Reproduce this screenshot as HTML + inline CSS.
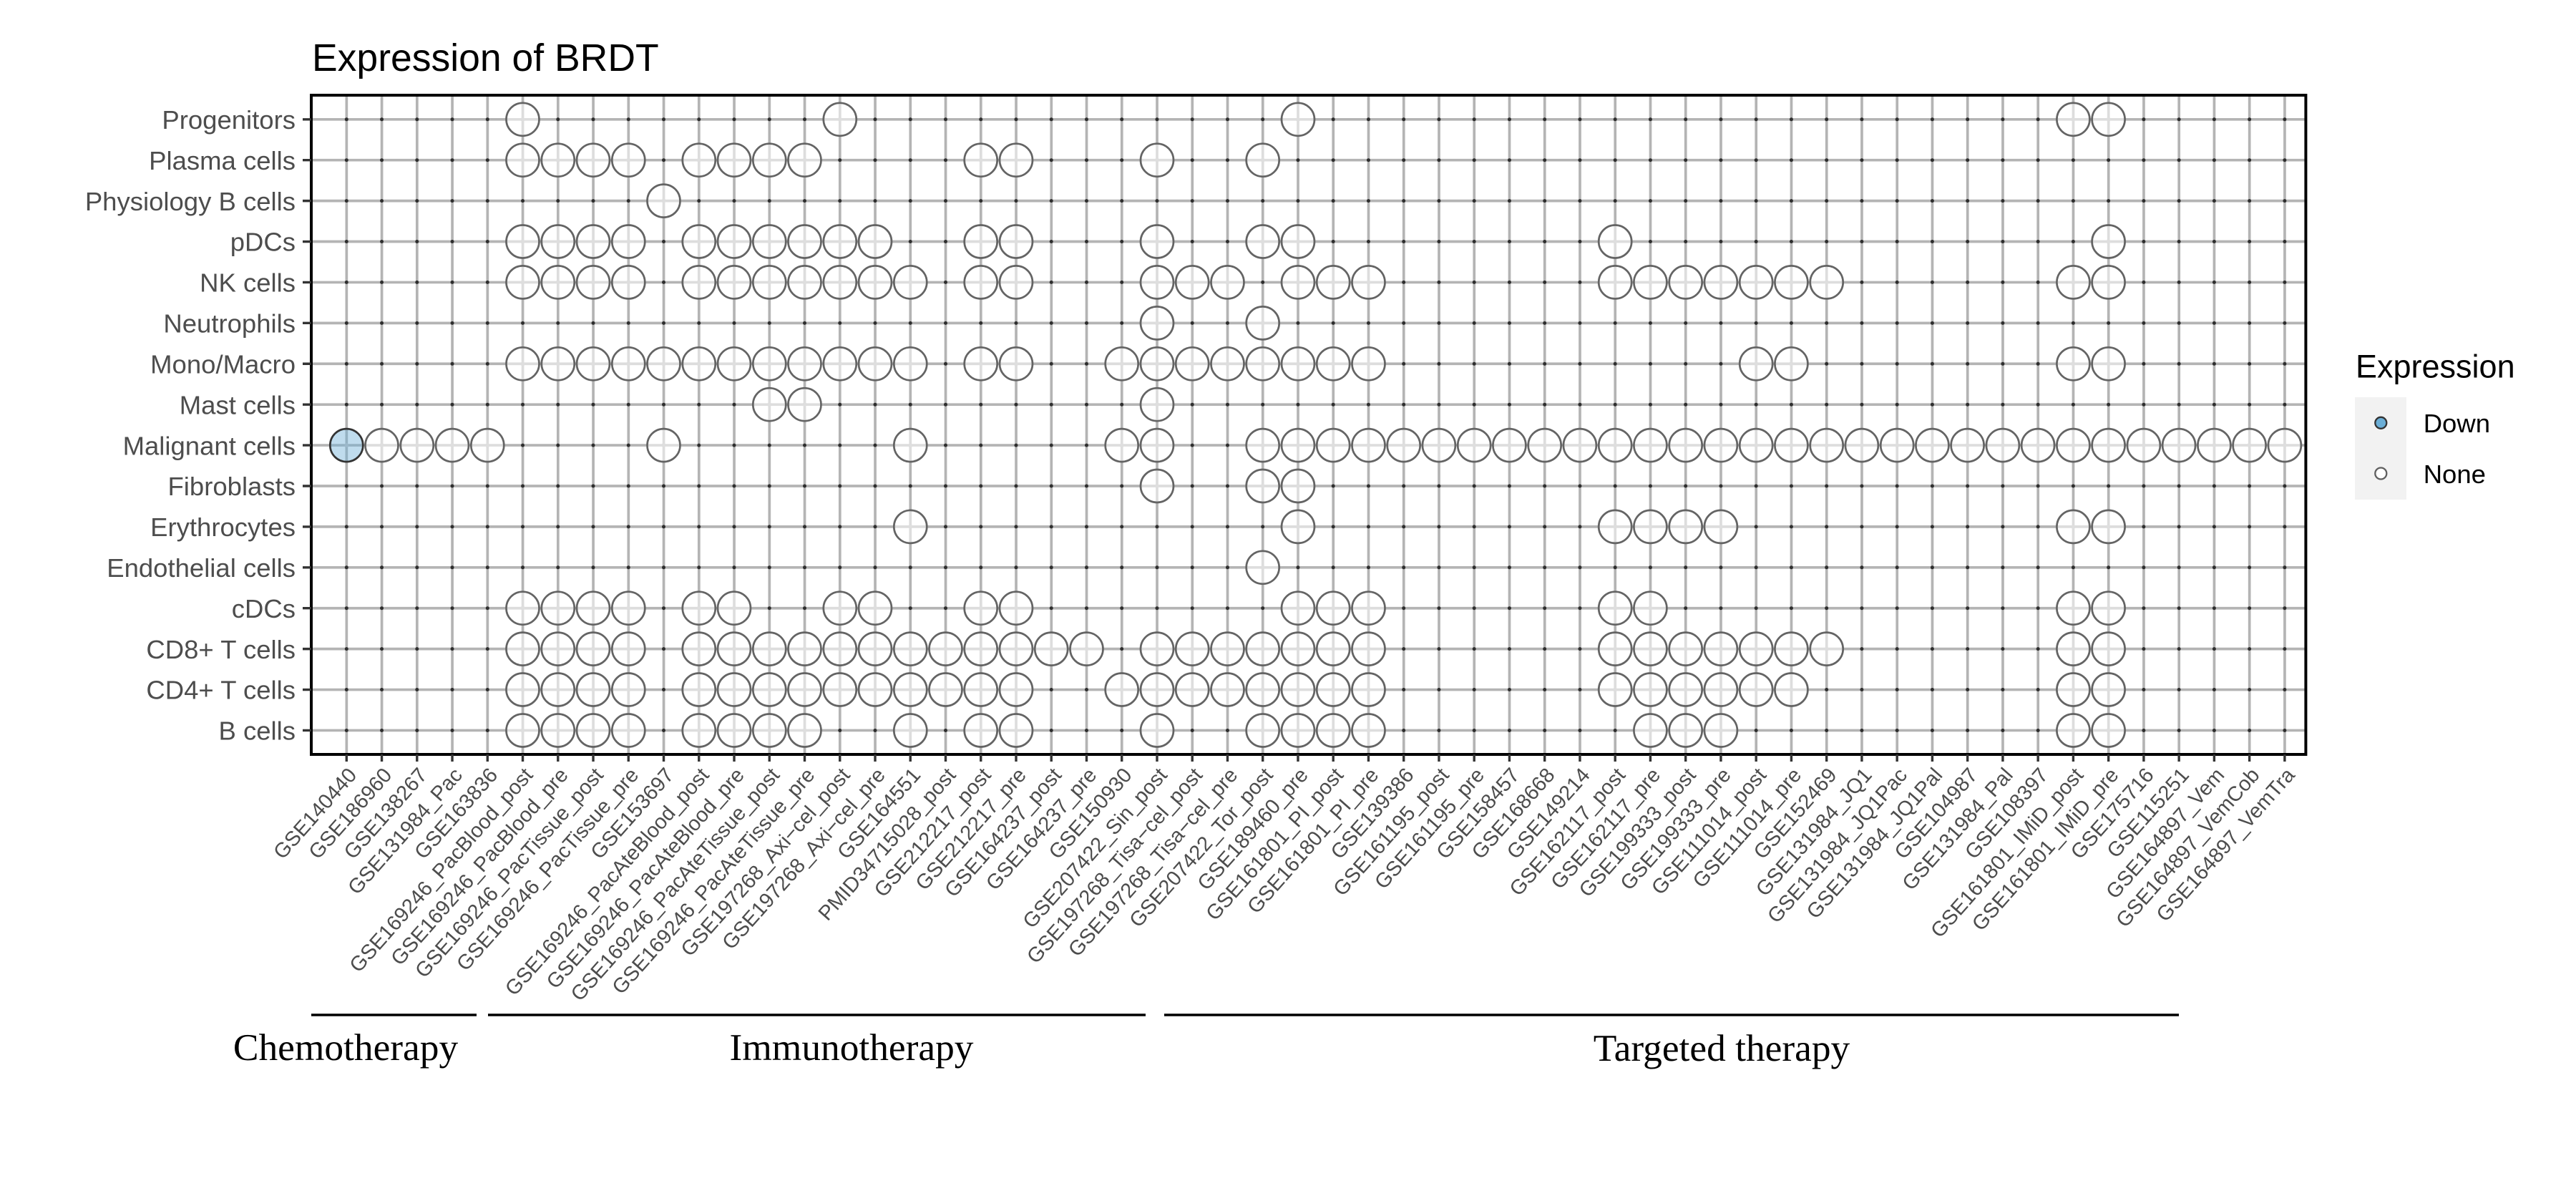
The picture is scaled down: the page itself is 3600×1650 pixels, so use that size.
<!DOCTYPE html>
<html>
<head>
<meta charset="utf-8">
<style>
html,body{margin:0;padding:0;background:#fff;}
svg{display:block;}
.sans{font-family:"Liberation Sans",Arial,Helvetica,sans-serif;}
.serif{font-family:"Liberation Serif","Times New Roman",serif;}
.xl{font-size:29px;fill:#4d4d4d;text-anchor:end;}
.yl{font-size:36.5px;fill:#4d4d4d;text-anchor:end;}
.c circle{fill:url(#g);stroke:#646464;stroke-width:2.7;}
</style>
</head>
<body>
<svg width="3600" height="1650" viewBox="0 0 3600 1650" xmlns="http://www.w3.org/2000/svg">
<defs>
<radialGradient id="g" cx="0.5" cy="0.5" r="0.5">
<stop offset="0" stop-color="#dedede" stop-opacity="1"/>
<stop offset="0.13" stop-color="#dedede" stop-opacity="1"/>
<stop offset="0.131" stop-color="#ffffff" stop-opacity="0.55"/>
<stop offset="1" stop-color="#ffffff" stop-opacity="0.55"/>
</radialGradient>
<radialGradient id="gb" cx="0.5" cy="0.5" r="0.5">
<stop offset="0" stop-color="#9bb8ca" stop-opacity="1"/>
<stop offset="0.13" stop-color="#9bb8ca" stop-opacity="1"/>
<stop offset="0.131" stop-color="#6baed6" stop-opacity="0.43"/>
<stop offset="1" stop-color="#6baed6" stop-opacity="0.43"/>
</radialGradient>
</defs>
<rect x="0" y="0" width="3600" height="1650" fill="#fff"/>

<!-- title -->
<text class="sans" x="436" y="99" font-size="53.5" fill="#000">Expression of BRDT</text>

<!-- gridlines -->
<line x1="482.5" y1="593.5" x2="3195" y2="593.5" stroke="#b4b4b4" stroke-width="921" stroke-dasharray="3.7 45.547"/>
<line x1="1828.7" y1="164.95" x2="1828.7" y2="1022.5" stroke="#b4b4b4" stroke-width="2787.4" stroke-dasharray="3.7 53.21"/>

<!-- small dots at every intersection -->
<g stroke="#2e2e2e" stroke-width="5" stroke-linecap="round" stroke-dasharray="0 49.247" fill="none">
<path d="M484.3 166.8H3193.6M484.3 223.7H3193.6M484.3 280.6H3193.6M484.3 337.5H3193.6M484.3 394.4H3193.6M484.3 451.4H3193.6M484.3 508.3H3193.6M484.3 565.2H3193.6M484.3 622.1H3193.6M484.3 679.0H3193.6M484.3 735.9H3193.6M484.3 792.8H3193.6M484.3 849.7H3193.6M484.3 906.6H3193.6M484.3 963.5H3193.6M484.3 1020.5H3193.6"/>
</g>

<!-- circles -->
<g class="c">
<g transform="translate(0,166.8)">
<circle cx="730.5" r="23"/><circle cx="1173.8" r="23"/><circle cx="1814.0" r="23"/><circle cx="2897.4" r="23"/><circle cx="2946.6" r="23"/>
</g>
<g transform="translate(0,223.7)">
<circle cx="730.5" r="23"/><circle cx="779.8" r="23"/><circle cx="829.0" r="23"/><circle cx="878.3" r="23"/>
<circle cx="976.8" r="23"/><circle cx="1026.0" r="23"/><circle cx="1075.3" r="23"/><circle cx="1124.5" r="23"/>
<circle cx="1370.7" r="23"/><circle cx="1420.0" r="23"/><circle cx="1617.0" r="23"/><circle cx="1764.7" r="23"/>
</g>
<g transform="translate(0,280.6)">
<circle cx="927.5" r="23"/>
</g>
<g transform="translate(0,337.5)">
<circle cx="730.5" r="23"/><circle cx="779.8" r="23"/><circle cx="829.0" r="23"/><circle cx="878.3" r="23"/>
<circle cx="976.8" r="23"/><circle cx="1026.0" r="23"/><circle cx="1075.3" r="23"/><circle cx="1124.5" r="23"/><circle cx="1173.8" r="23"/><circle cx="1223.0" r="23"/>
<circle cx="1370.7" r="23"/><circle cx="1420.0" r="23"/><circle cx="1617.0" r="23"/><circle cx="1764.7" r="23"/><circle cx="1814.0" r="23"/>
<circle cx="2257.2" r="23"/><circle cx="2946.6" r="23"/>
</g>
<g transform="translate(0,394.4)">
<circle cx="730.5" r="23"/><circle cx="779.8" r="23"/><circle cx="829.0" r="23"/><circle cx="878.3" r="23"/>
<circle cx="976.8" r="23"/><circle cx="1026.0" r="23"/><circle cx="1075.3" r="23"/><circle cx="1124.5" r="23"/><circle cx="1173.8" r="23"/><circle cx="1223.0" r="23"/><circle cx="1272.3" r="23"/>
<circle cx="1370.7" r="23"/><circle cx="1420.0" r="23"/>
<circle cx="1617.0" r="23"/><circle cx="1666.2" r="23"/><circle cx="1715.5" r="23"/>
<circle cx="1814.0" r="23"/><circle cx="1863.2" r="23"/><circle cx="1912.5" r="23"/>
<circle cx="2257.2" r="23"/><circle cx="2306.4" r="23"/><circle cx="2355.7" r="23"/><circle cx="2404.9" r="23"/><circle cx="2454.2" r="23"/><circle cx="2503.4" r="23"/><circle cx="2552.7" r="23"/>
<circle cx="2897.4" r="23"/><circle cx="2946.6" r="23"/>
</g>
<g transform="translate(0,451.4)">
<circle cx="1617.0" r="23"/><circle cx="1764.7" r="23"/>
</g>
<g transform="translate(0,508.3)">
<circle cx="730.5" r="23"/><circle cx="779.8" r="23"/><circle cx="829.0" r="23"/><circle cx="878.3" r="23"/><circle cx="927.5" r="23"/><circle cx="976.8" r="23"/><circle cx="1026.0" r="23"/><circle cx="1075.3" r="23"/><circle cx="1124.5" r="23"/><circle cx="1173.8" r="23"/><circle cx="1223.0" r="23"/><circle cx="1272.3" r="23"/>
<circle cx="1370.7" r="23"/><circle cx="1420.0" r="23"/>
<circle cx="1567.7" r="23"/><circle cx="1617.0" r="23"/><circle cx="1666.2" r="23"/><circle cx="1715.5" r="23"/><circle cx="1764.7" r="23"/><circle cx="1814.0" r="23"/><circle cx="1863.2" r="23"/><circle cx="1912.5" r="23"/>
<circle cx="2454.2" r="23"/><circle cx="2503.4" r="23"/>
<circle cx="2897.4" r="23"/><circle cx="2946.6" r="23"/>
</g>
<g transform="translate(0,565.2)">
<circle cx="1075.3" r="23"/><circle cx="1124.5" r="23"/><circle cx="1617.0" r="23"/>
</g>
<g transform="translate(0,622.1)">
<circle cx="484.3" r="23" style="fill:url(#gb);stroke:#333;"/>
<circle cx="533.5" r="23"/><circle cx="582.8" r="23"/><circle cx="632.0" r="23"/><circle cx="681.3" r="23"/>
<circle cx="927.5" r="23"/><circle cx="1272.3" r="23"/><circle cx="1567.7" r="23"/><circle cx="1617.0" r="23"/>
<circle cx="1764.7" r="23"/><circle cx="1814.0" r="23"/><circle cx="1863.2" r="23"/><circle cx="1912.5" r="23"/><circle cx="1961.7" r="23"/><circle cx="2010.9" r="23"/><circle cx="2060.2" r="23"/><circle cx="2109.4" r="23"/><circle cx="2158.7" r="23"/><circle cx="2207.9" r="23"/>
<circle cx="2257.2" r="23"/><circle cx="2306.4" r="23"/><circle cx="2355.7" r="23"/><circle cx="2404.9" r="23"/><circle cx="2454.2" r="23"/><circle cx="2503.4" r="23"/><circle cx="2552.7" r="23"/><circle cx="2601.9" r="23"/><circle cx="2651.2" r="23"/><circle cx="2700.4" r="23"/>
<circle cx="2749.6" r="23"/><circle cx="2798.9" r="23"/><circle cx="2848.1" r="23"/><circle cx="2897.4" r="23"/><circle cx="2946.6" r="23"/><circle cx="2995.9" r="23"/><circle cx="3045.1" r="23"/><circle cx="3094.4" r="23"/><circle cx="3143.6" r="23"/><circle cx="3192.9" r="23"/>
</g>
<g transform="translate(0,679.0)">
<circle cx="1617.0" r="23"/><circle cx="1764.7" r="23"/><circle cx="1814.0" r="23"/>
</g>
<g transform="translate(0,735.9)">
<circle cx="1272.3" r="23"/><circle cx="1814.0" r="23"/>
<circle cx="2257.2" r="23"/><circle cx="2306.4" r="23"/><circle cx="2355.7" r="23"/><circle cx="2404.9" r="23"/>
<circle cx="2897.4" r="23"/><circle cx="2946.6" r="23"/>
</g>
<g transform="translate(0,792.8)">
<circle cx="1764.7" r="23"/>
</g>
<g transform="translate(0,849.7)">
<circle cx="730.5" r="23"/><circle cx="779.8" r="23"/><circle cx="829.0" r="23"/><circle cx="878.3" r="23"/>
<circle cx="976.8" r="23"/><circle cx="1026.0" r="23"/><circle cx="1173.8" r="23"/><circle cx="1223.0" r="23"/>
<circle cx="1370.7" r="23"/><circle cx="1420.0" r="23"/>
<circle cx="1814.0" r="23"/><circle cx="1863.2" r="23"/><circle cx="1912.5" r="23"/>
<circle cx="2257.2" r="23"/><circle cx="2306.4" r="23"/>
<circle cx="2897.4" r="23"/><circle cx="2946.6" r="23"/>
</g>
<g transform="translate(0,906.6)">
<circle cx="730.5" r="23"/><circle cx="779.8" r="23"/><circle cx="829.0" r="23"/><circle cx="878.3" r="23"/>
<circle cx="976.8" r="23"/><circle cx="1026.0" r="23"/><circle cx="1075.3" r="23"/><circle cx="1124.5" r="23"/><circle cx="1173.8" r="23"/><circle cx="1223.0" r="23"/><circle cx="1272.3" r="23"/><circle cx="1321.5" r="23"/><circle cx="1370.7" r="23"/><circle cx="1420.0" r="23"/><circle cx="1469.2" r="23"/><circle cx="1518.5" r="23"/>
<circle cx="1617.0" r="23"/><circle cx="1666.2" r="23"/><circle cx="1715.5" r="23"/><circle cx="1764.7" r="23"/><circle cx="1814.0" r="23"/><circle cx="1863.2" r="23"/><circle cx="1912.5" r="23"/>
<circle cx="2257.2" r="23"/><circle cx="2306.4" r="23"/><circle cx="2355.7" r="23"/><circle cx="2404.9" r="23"/><circle cx="2454.2" r="23"/><circle cx="2503.4" r="23"/><circle cx="2552.7" r="23"/>
<circle cx="2897.4" r="23"/><circle cx="2946.6" r="23"/>
</g>
<g transform="translate(0,963.5)">
<circle cx="730.5" r="23"/><circle cx="779.8" r="23"/><circle cx="829.0" r="23"/><circle cx="878.3" r="23"/>
<circle cx="976.8" r="23"/><circle cx="1026.0" r="23"/><circle cx="1075.3" r="23"/><circle cx="1124.5" r="23"/><circle cx="1173.8" r="23"/><circle cx="1223.0" r="23"/><circle cx="1272.3" r="23"/><circle cx="1321.5" r="23"/><circle cx="1370.7" r="23"/><circle cx="1420.0" r="23"/>
<circle cx="1567.7" r="23"/><circle cx="1617.0" r="23"/><circle cx="1666.2" r="23"/><circle cx="1715.5" r="23"/><circle cx="1764.7" r="23"/><circle cx="1814.0" r="23"/><circle cx="1863.2" r="23"/><circle cx="1912.5" r="23"/>
<circle cx="2257.2" r="23"/><circle cx="2306.4" r="23"/><circle cx="2355.7" r="23"/><circle cx="2404.9" r="23"/><circle cx="2454.2" r="23"/><circle cx="2503.4" r="23"/>
<circle cx="2897.4" r="23"/><circle cx="2946.6" r="23"/>
</g>
<g transform="translate(0,1020.5)">
<circle cx="730.5" r="23"/><circle cx="779.8" r="23"/><circle cx="829.0" r="23"/><circle cx="878.3" r="23"/>
<circle cx="976.8" r="23"/><circle cx="1026.0" r="23"/><circle cx="1075.3" r="23"/><circle cx="1124.5" r="23"/>
<circle cx="1272.3" r="23"/><circle cx="1370.7" r="23"/><circle cx="1420.0" r="23"/><circle cx="1617.0" r="23"/>
<circle cx="1764.7" r="23"/><circle cx="1814.0" r="23"/><circle cx="1863.2" r="23"/><circle cx="1912.5" r="23"/>
<circle cx="2306.4" r="23"/><circle cx="2355.7" r="23"/><circle cx="2404.9" r="23"/>
<circle cx="2897.4" r="23"/><circle cx="2946.6" r="23"/>
</g>
</g>

<!-- panel border -->
<rect x="435" y="133" width="2787.4" height="921" fill="none" stroke="#000" stroke-width="4"/>

<!-- ticks -->
<line x1="482.6" y1="1059" x2="3194.6" y2="1059" stroke="#333" stroke-width="10" stroke-dasharray="3.4 45.847"/>
<line x1="429" y1="165.1" x2="429" y2="1022.2" stroke="#333" stroke-width="12" stroke-dasharray="3.4 53.51"/>

<!-- y labels -->
<g class="sans yl">
<text x="413" y="180">Progenitors</text>
<text x="413" y="236.9">Plasma cells</text>
<text x="413" y="293.8">Physiology B cells</text>
<text x="413" y="350.7">pDCs</text>
<text x="413" y="407.6">NK cells</text>
<text x="413" y="464.6">Neutrophils</text>
<text x="413" y="521.5">Mono/Macro</text>
<text x="413" y="578.4">Mast cells</text>
<text x="413" y="635.3">Malignant cells</text>
<text x="413" y="692.2">Fibroblasts</text>
<text x="413" y="749.1">Erythrocytes</text>
<text x="413" y="806">Endothelial cells</text>
<text x="413" y="862.9">cDCs</text>
<text x="413" y="919.8">CD8+ T cells</text>
<text x="413" y="976.7">CD4+ T cells</text>
<text x="413" y="1033.7">B cells</text>
</g>

<!-- x labels -->
<g class="sans xl">
<text transform="translate(484.3,1070) rotate(-48.5)" dy="20.8">GSE140440</text>
<text transform="translate(533.5,1070) rotate(-48.5)" dy="20.8">GSE186960</text>
<text transform="translate(582.8,1070) rotate(-48.5)" dy="20.8">GSE138267</text>
<text transform="translate(632.0,1070) rotate(-48.5)" dy="20.8">GSE131984_Pac</text>
<text transform="translate(681.3,1070) rotate(-48.5)" dy="20.8">GSE163836</text>
<text transform="translate(730.5,1070) rotate(-48.5)" dy="20.8">GSE169246_PacBlood_post</text>
<text transform="translate(779.8,1070) rotate(-48.5)" dy="20.8">GSE169246_PacBlood_pre</text>
<text transform="translate(829.0,1070) rotate(-48.5)" dy="20.8">GSE169246_PacTissue_post</text>
<text transform="translate(878.3,1070) rotate(-48.5)" dy="20.8">GSE169246_PacTissue_pre</text>
<text transform="translate(927.5,1070) rotate(-48.5)" dy="20.8">GSE153697</text>
<text transform="translate(976.8,1070) rotate(-48.5)" dy="20.8">GSE169246_PacAteBlood_post</text>
<text transform="translate(1026.0,1070) rotate(-48.5)" dy="20.8">GSE169246_PacAteBlood_pre</text>
<text transform="translate(1075.3,1070) rotate(-48.5)" dy="20.8">GSE169246_PacAteTissue_post</text>
<text transform="translate(1124.5,1070) rotate(-48.5)" dy="20.8">GSE169246_PacAteTissue_pre</text>
<text transform="translate(1173.8,1070) rotate(-48.5)" dy="20.8">GSE197268_Axi−cel_post</text>
<text transform="translate(1223.0,1070) rotate(-48.5)" dy="20.8">GSE197268_Axi−cel_pre</text>
<text transform="translate(1272.3,1070) rotate(-48.5)" dy="20.8">GSE164551</text>
<text transform="translate(1321.5,1070) rotate(-48.5)" dy="20.8">PMID34715028_post</text>
<text transform="translate(1370.7,1070) rotate(-48.5)" dy="20.8">GSE212217_post</text>
<text transform="translate(1420.0,1070) rotate(-48.5)" dy="20.8">GSE212217_pre</text>
<text transform="translate(1469.2,1070) rotate(-48.5)" dy="20.8">GSE164237_post</text>
<text transform="translate(1518.5,1070) rotate(-48.5)" dy="20.8">GSE164237_pre</text>
<text transform="translate(1567.7,1070) rotate(-48.5)" dy="20.8">GSE150930</text>
<text transform="translate(1617.0,1070) rotate(-48.5)" dy="20.8">GSE207422_Sin_post</text>
<text transform="translate(1666.2,1070) rotate(-48.5)" dy="20.8">GSE197268_Tisa−cel_post</text>
<text transform="translate(1715.5,1070) rotate(-48.5)" dy="20.8">GSE197268_Tisa−cel_pre</text>
<text transform="translate(1764.7,1070) rotate(-48.5)" dy="20.8">GSE207422_Tor_post</text>
<text transform="translate(1814.0,1070) rotate(-48.5)" dy="20.8">GSE189460_pre</text>
<text transform="translate(1863.2,1070) rotate(-48.5)" dy="20.8">GSE161801_PI_post</text>
<text transform="translate(1912.5,1070) rotate(-48.5)" dy="20.8">GSE161801_PI_pre</text>
<text transform="translate(1961.7,1070) rotate(-48.5)" dy="20.8">GSE139386</text>
<text transform="translate(2010.9,1070) rotate(-48.5)" dy="20.8">GSE161195_post</text>
<text transform="translate(2060.2,1070) rotate(-48.5)" dy="20.8">GSE161195_pre</text>
<text transform="translate(2109.4,1070) rotate(-48.5)" dy="20.8">GSE158457</text>
<text transform="translate(2158.7,1070) rotate(-48.5)" dy="20.8">GSE168668</text>
<text transform="translate(2207.9,1070) rotate(-48.5)" dy="20.8">GSE149214</text>
<text transform="translate(2257.2,1070) rotate(-48.5)" dy="20.8">GSE162117_post</text>
<text transform="translate(2306.4,1070) rotate(-48.5)" dy="20.8">GSE162117_pre</text>
<text transform="translate(2355.7,1070) rotate(-48.5)" dy="20.8">GSE199333_post</text>
<text transform="translate(2404.9,1070) rotate(-48.5)" dy="20.8">GSE199333_pre</text>
<text transform="translate(2454.2,1070) rotate(-48.5)" dy="20.8">GSE111014_post</text>
<text transform="translate(2503.4,1070) rotate(-48.5)" dy="20.8">GSE111014_pre</text>
<text transform="translate(2552.7,1070) rotate(-48.5)" dy="20.8">GSE152469</text>
<text transform="translate(2601.9,1070) rotate(-48.5)" dy="20.8">GSE131984_JQ1</text>
<text transform="translate(2651.2,1070) rotate(-48.5)" dy="20.8">GSE131984_JQ1Pac</text>
<text transform="translate(2700.4,1070) rotate(-48.5)" dy="20.8">GSE131984_JQ1Pal</text>
<text transform="translate(2749.6,1070) rotate(-48.5)" dy="20.8">GSE104987</text>
<text transform="translate(2798.9,1070) rotate(-48.5)" dy="20.8">GSE131984_Pal</text>
<text transform="translate(2848.1,1070) rotate(-48.5)" dy="20.8">GSE108397</text>
<text transform="translate(2897.4,1070) rotate(-48.5)" dy="20.8">GSE161801_IMiD_post</text>
<text transform="translate(2946.6,1070) rotate(-48.5)" dy="20.8">GSE161801_IMiD_pre</text>
<text transform="translate(2995.9,1070) rotate(-48.5)" dy="20.8">GSE175716</text>
<text transform="translate(3045.1,1070) rotate(-48.5)" dy="20.8">GSE115251</text>
<text transform="translate(3094.4,1070) rotate(-48.5)" dy="20.8">GSE164897_Vem</text>
<text transform="translate(3143.6,1070) rotate(-48.5)" dy="20.8">GSE164897_VemCob</text>
<text transform="translate(3192.9,1070) rotate(-48.5)" dy="20.8">GSE164897_VemTra</text>
</g>

<!-- legend -->
<text class="sans" x="3292" y="527.6" font-size="45" fill="#000">Expression</text>
<rect x="3291" y="555" width="72" height="143" fill="#f2f2f2"/>
<circle cx="3327.3" cy="590.8" r="8" fill="#6baed6" stroke="#333" stroke-width="2.3"/>
<circle cx="3327.3" cy="661.5" r="8" fill="#fff" stroke="#5f5f5f" stroke-width="2.3"/>
<text class="sans" x="3386.7" y="604" font-size="36.5" fill="#000">Down</text>
<text class="sans" x="3386.7" y="675" font-size="36.5" fill="#000">None</text>

<!-- therapy brackets -->
<g stroke="#000" stroke-width="3.6">
<line x1="435" y1="1418" x2="666" y2="1418"/>
<line x1="682" y1="1418" x2="1601" y2="1418"/>
<line x1="1627" y1="1418" x2="3045" y2="1418"/>
</g>
<g class="serif" font-size="53.4" fill="#000" text-anchor="middle">
<text x="483" y="1481">Chemotherapy</text>
<text x="1190" y="1481">Immunotherapy</text>
<text x="2406" y="1482">Targeted therapy</text>
</g>
</svg>
</body>
</html>
